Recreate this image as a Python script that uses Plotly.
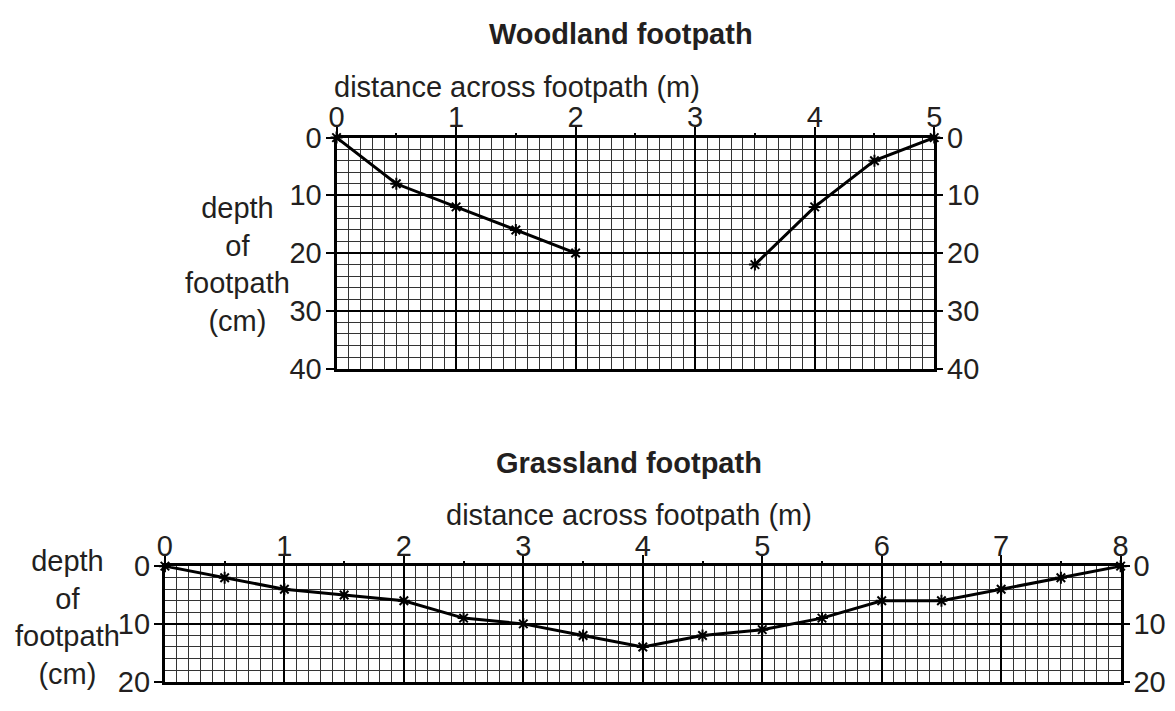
import plotly.graph_objects as go

# ---------------- data ----------------
wood_left_x = [0, 0.5, 1, 1.5, 2]
wood_left_depth = [0, 8, 12, 16, 20]
wood_right_x = [3.5, 4, 4.5, 5]
wood_right_depth = [22, 12, 4, 0]

grass_x = [0, 0.5, 1, 1.5, 2, 2.5, 3, 3.5, 4, 4.5, 5, 5.5, 6, 6.5, 7, 7.5, 8]
grass_depth = [0, 2, 4, 5, 6, 9, 10, 12, 14, 12, 11, 9, 6, 6, 4, 2, 0]

wood_x_ticks = [0, 1, 2, 3, 4, 5]
wood_x_half = [0.5, 1.5, 2.5, 3.5, 4.5]
wood_y_ticks = [0, 10, 20, 30, 40]
grass_x_ticks = [0, 1, 2, 3, 4, 5, 6, 7, 8]
grass_x_half = [0.5, 1.5, 2.5, 3.5, 4.5, 5.5, 6.5, 7.5]
grass_y_ticks = [0, 10, 20]

title_top = "Woodland footpath"
title_bottom = "Grassland footpath"
x_title = "distance across footpath (m)"
y_title = "depth<br>of<br>footpath<br>(cm)"

# ---------------- layout helpers ----------------
OFF = 8  # default body margin of the html page
W, H = 1175 - OFF, 711 - OFF
FONT = "Liberation Sans, Arial, Helvetica, sans-serif"
TXT = "#231f20"
FS = 29


def px(x):
    return (x - OFF) / W


def py(y):
    return 1 - (y - OFF) / H


top_dom_x = [px(333), px(939)]
top_dom_y = [py(369), py(127)]
bot_dom_x = [px(159), px(1128)]
bot_dom_y = [py(697), py(576)]

line_style = dict(color="black", width=3)
marker_style = dict(symbol="asterisk-open", size=10, color="black",
                    line=dict(color="black", width=2))

fig = go.Figure()
fig.add_trace(go.Scatter(x=wood_left_x, y=wood_left_depth, mode="lines+markers",
                         line=line_style, marker=marker_style, cliponaxis=False,
                         xaxis="x", yaxis="y", showlegend=False, hoverinfo="skip"))
fig.add_trace(go.Scatter(x=wood_right_x, y=wood_right_depth, mode="lines+markers",
                         line=line_style, marker=marker_style, cliponaxis=False,
                         xaxis="x", yaxis="y", showlegend=False, hoverinfo="skip"))
fig.add_trace(go.Scatter(x=grass_x, y=grass_depth, mode="lines+markers",
                         line=line_style, marker=marker_style, cliponaxis=False,
                         xaxis="x2", yaxis="y2", showlegend=False, hoverinfo="skip"))

# invisible helper traces so that the overlay axes (half ticks, right labels) are drawn
for xa, ya in [("x3", "y"), ("x", "y3"), ("x4", "y2"), ("x2", "y4")]:
    fig.add_trace(go.Scatter(x=[None], y=[None], mode="markers", xaxis=xa, yaxis=ya,
                             showlegend=False, hoverinfo="skip"))


def main_x(dom, anchor, rng, ticks):
    return dict(domain=dom, anchor=anchor, side="top", range=rng,
                tickmode="array", tickvals=ticks, ticktext=[str(t) for t in ticks],
                ticks="outside", ticklen=8, tickwidth=2, tickcolor="black",
                ticklabelstandoff=-12,
                showline=True, linecolor="black", linewidth=3, mirror=True,
                showgrid=True, gridcolor="black", gridwidth=2,
                minor=dict(dtick=0.1, tick0=0, showgrid=True, gridcolor="#333333",
                           gridwidth=1, ticks=""),
                zeroline=False, fixedrange=True,
                tickfont=dict(family=FONT, size=FS, color=TXT))


def half_x(over, anchor, rng, vals):
    return dict(overlaying=over, anchor=anchor, side="top", range=rng,
                tickmode="array", tickvals=vals, showticklabels=False,
                ticks="outside", ticklen=4, tickwidth=2, tickcolor="black",
                showgrid=False, zeroline=False, showline=False, fixedrange=True)


def main_y(dom, anchor, rng, ticks):
    return dict(domain=dom, anchor=anchor, range=rng,
                tickmode="array", tickvals=ticks, ticktext=[str(t) for t in ticks],
                ticks="outside", ticklen=8, tickwidth=2, tickcolor="black",
                ticklabelstandoff=-2,
                showline=True, linecolor="black", linewidth=3, mirror=True,
                showgrid=True, gridcolor="black", gridwidth=2,
                minor=dict(dtick=2, tick0=0, showgrid=True, gridcolor="#333333",
                           gridwidth=1, ticks=""),
                zeroline=False, fixedrange=True,
                tickfont=dict(family=FONT, size=FS, color=TXT))


def right_y(over, anchor, rng, ticks):
    return dict(overlaying=over, anchor=anchor, side="right", range=rng,
                tickmode="array", tickvals=ticks, ticktext=[str(t) for t in ticks],
                ticks="outside", ticklen=8, tickwidth=2, tickcolor="black",
                ticklabelstandoff=-2,
                showgrid=False, zeroline=False, showline=False, fixedrange=True,
                tickfont=dict(family=FONT, size=FS, color=TXT))


wood_xr = [0, 5]
wood_yr = [40, 0]
grass_xr = [0, 8]
grass_yr = [20, 0]

fig.update_layout(
    width=W, height=H,
    margin=dict(l=0, r=0, t=0, b=0),
    paper_bgcolor="white", plot_bgcolor="white",
    showlegend=False,
    xaxis=main_x(top_dom_x, "y", wood_xr, wood_x_ticks),
    yaxis=main_y(top_dom_y, "x", wood_yr, wood_y_ticks),
    xaxis3=half_x("x", "y", wood_xr, wood_x_half),
    yaxis3=right_y("y", "x", wood_yr, wood_y_ticks),
    xaxis2=main_x(bot_dom_x, "y2", grass_xr, grass_x_ticks),
    yaxis2=main_y(bot_dom_y, "x2", grass_yr, grass_y_ticks),
    xaxis4=half_x("x2", "y2", grass_xr, grass_x_half),
    yaxis4=right_y("y2", "x2", grass_yr, grass_y_ticks),
)

ann = [
    dict(text="<b>%s</b>" % title_top, x=px(621), y=py(19)),
    dict(text=x_title, x=px(516), y=py(74)),
    dict(text=y_title, x=px(233), y=py(260)),
    dict(text="<b>%s</b>" % title_bottom, x=px(630), y=py(468)),
    dict(text=x_title, x=px(630), y=py(522)),
    dict(text=y_title, x=px(60), y=py(630)),
]
for a in ann:
    fig.add_annotation(xref="paper", yref="paper", xanchor="center", yanchor="middle",
                       showarrow=False, align="center",
                       font=dict(family=FONT, size=FS, color=TXT), **a)

fig.write_html("out.html")
